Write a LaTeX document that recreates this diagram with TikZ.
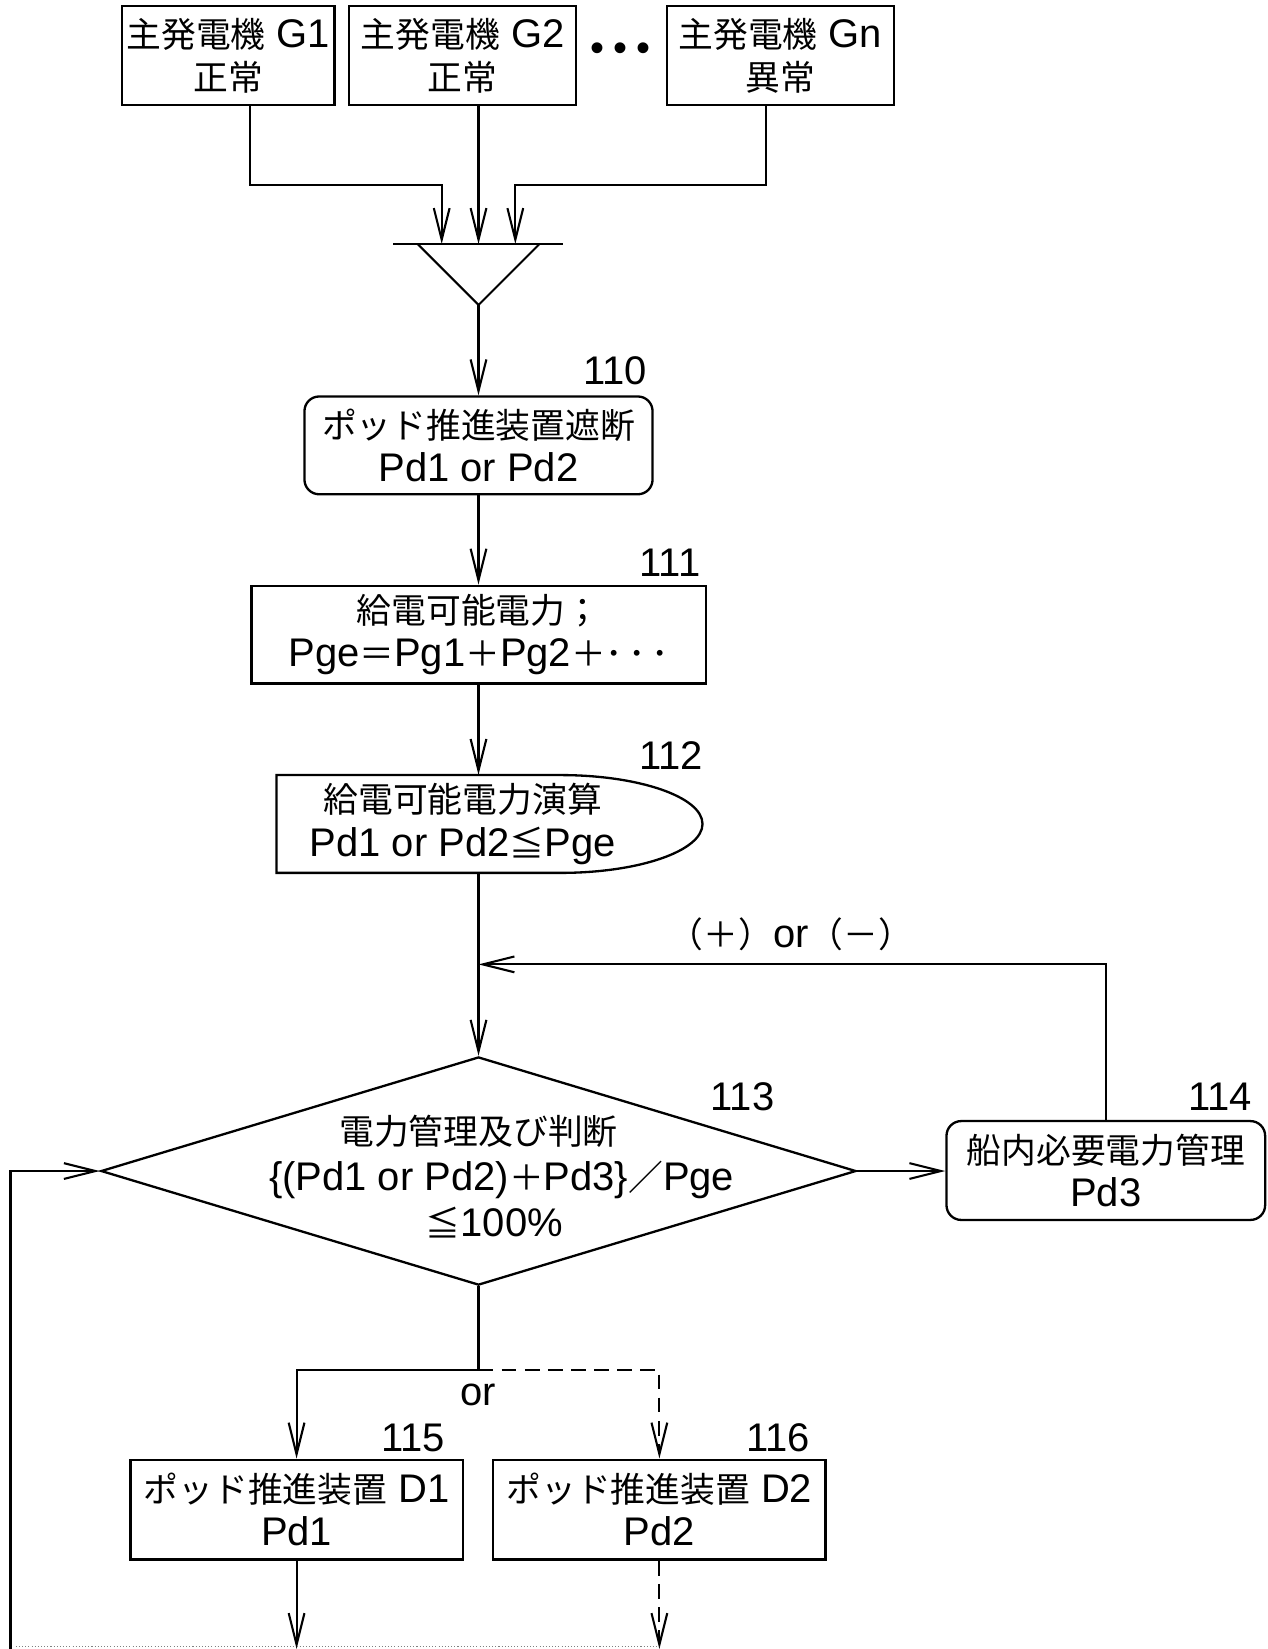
\documentclass[tikz,border=0pt]{standalone}
\usepackage{fontspec}
\setmainfont{Liberation Sans}
\newfontfamily\jp[Scale=0.87]{Noto Sans CJK JP}
\usetikzlibrary{arrows.meta,shapes.geometric}

\tikzset{
  box/.style={draw, line width=2.2pt, align=center, inner sep=0pt},
  rbox/.style={box, rounded corners=14pt},
  arr/.style={line width=2pt, -{Straight Barb[length=30pt,width=15pt,line width=2pt]}},
  dsh/.style={arr, dash pattern=on 14pt off 8pt},
  num/.style={inner sep=0pt},
}

\begin{document}
\begin{tikzpicture}[x=1pt,y=-1pt,font=\fontsize{38}{41}\selectfont]
    \useasboundingbox (0,0) rectangle (1205,1568);

    % 主発電機
    \node[box, minimum width=202pt, minimum height=94pt] (g1) at (217,53) {{\jp 主発電機} G1\\{\jp 正常}};
    \node[box, minimum width=216pt, minimum height=94pt] (g2) at (440,53) {{\jp 主発電機} G2\\{\jp 正常}};
    \node[box, minimum width=216pt, minimum height=94pt] (gn) at (742,53) {{\jp 主発電機} Gn\\{\jp 異常}};
    \node (dots) at (590,50) {•\kern9pt•\kern9pt•};

    % 合流
    \coordinate (bus) at (455,232);
    \coordinate (in1) at (420,232);
    \coordinate (in3) at (490,232);
    \coordinate (tip) at (455,290);
    \draw[line width=2pt] (374,232) -- (535,232);
    \draw[line width=2pt] (397,232) -- (tip) -- (513,232);
    \draw[arr] ([xshift=21pt]g1.south) -- ++(0,75) -| (in1);
    \draw[arr] ([xshift=15pt]g2.south) -- (bus);
    \draw[arr] ([xshift=-14pt]gn.south) -- ++(0,75) -| (in3);

    % 110
    \node[rbox, minimum width=331pt, minimum height=93pt] (shut) at (455,423.5) {{\jp ポッド推進装置遮断}\\Pd1 or Pd2};
    \node[num] (n110) at (585,353) {110};
    \draw[arr] (tip) -- (shut.north);

    % 111
    \node[box, minimum width=432pt, minimum height=93pt] (supply) at (455,603.5) {{\jp 給電可能電力；}\\Pge{\jp ＝}Pg1{\jp ＋}Pg2{\jp ＋･\kern5pt･\kern5pt･}};
    \node[num] (n111) at (637,535) {111};
    \draw[arr] (shut.south) -- (supply.north);

    % 112
    \node[align=center, inner sep=0pt, minimum height=93pt] (calc) at (440,783.5) {{\jp 給電可能電力演算}\\Pd1 or Pd2{\jp ≦}Pge};
    \draw[line width=2.2pt] (263,737) -- (533,737) arc[start angle=90, end angle=-90, x radius=135pt, y radius=46.5pt] -- (263,830) -- cycle;
    \node[num] (n112) at (638,718) {112};
    \draw[arr] (supply.south) -- (supply.south |- calc.north);

    % 113
    \coordinate (merge) at (455,917);
    \node[diamond, draw, line width=2.2pt, minimum width=718pt, minimum height=217pt, inner sep=0pt] (judge) at (455,1113.5) {};
    \node[align=center, inner sep=0pt, font=\fontsize{38}{44}\selectfont] (judgetext) at (455,1119) {{\jp 電力管理及び判断}\\\hspace*{44pt}\{(Pd1 or Pd2){\jp ＋}Pd3\}{\jp ／}Pge\\\hspace*{30pt}{\jp ≦}100\%};
    \node[num] (n113) at (706,1043) {113};
    \draw[arr] (supply.south |- calc.south) -- (judge.north);

    % 114
    \node[rbox, minimum width=303pt, minimum height=94pt] (ship) at (1051.5,1113) {{\jp 船内必要電力管理}\\Pd3};
    \node[num] (n114) at (1160,1043) {114};
    \node (pm) at (752,888) {{\jp （＋）}or{\jp （－）}};
    \draw[arr] (judge.east) -- (judge.east -| ship.west);
    \draw[arr] (ship.north) |- (merge);

    % 115, 116
    \coordinate (split) at (455,1303);
    \node[box, minimum width=316pt, minimum height=95pt] (podA) at (282,1435.5) {{\jp ポッド推進装置} D1\\Pd1};
    \node[box, minimum width=316pt, minimum height=95pt] (podB) at (627,1435.5) {{\jp ポッド推進装置} D2\\Pd2};
    \node[num] (n115) at (393,1367) {115};
    \node[num] (n116) at (740,1367) {116};
    \node (or) at (455,1326) {or};
    \draw[line width=2pt] (judge.south) -- (split);
    \draw[arr] (split) -| (podA.north);
    \draw[dsh] (split) -| (podB.north);

    % 出口と戻り
    \coordinate (outA) at (282,1568);
    \coordinate (outB) at (627,1568);
    \coordinate (ret) at (10,1568);
    \draw[arr] (podA.south) -- (outA);
    \draw[dsh] (podB.south) -- (outB);
    \draw[arr] (ret) |- (judge.west);
    \draw[gray, line width=1pt, dotted] (15,1566) -- (627,1566);
\end{tikzpicture}
\end{document}
